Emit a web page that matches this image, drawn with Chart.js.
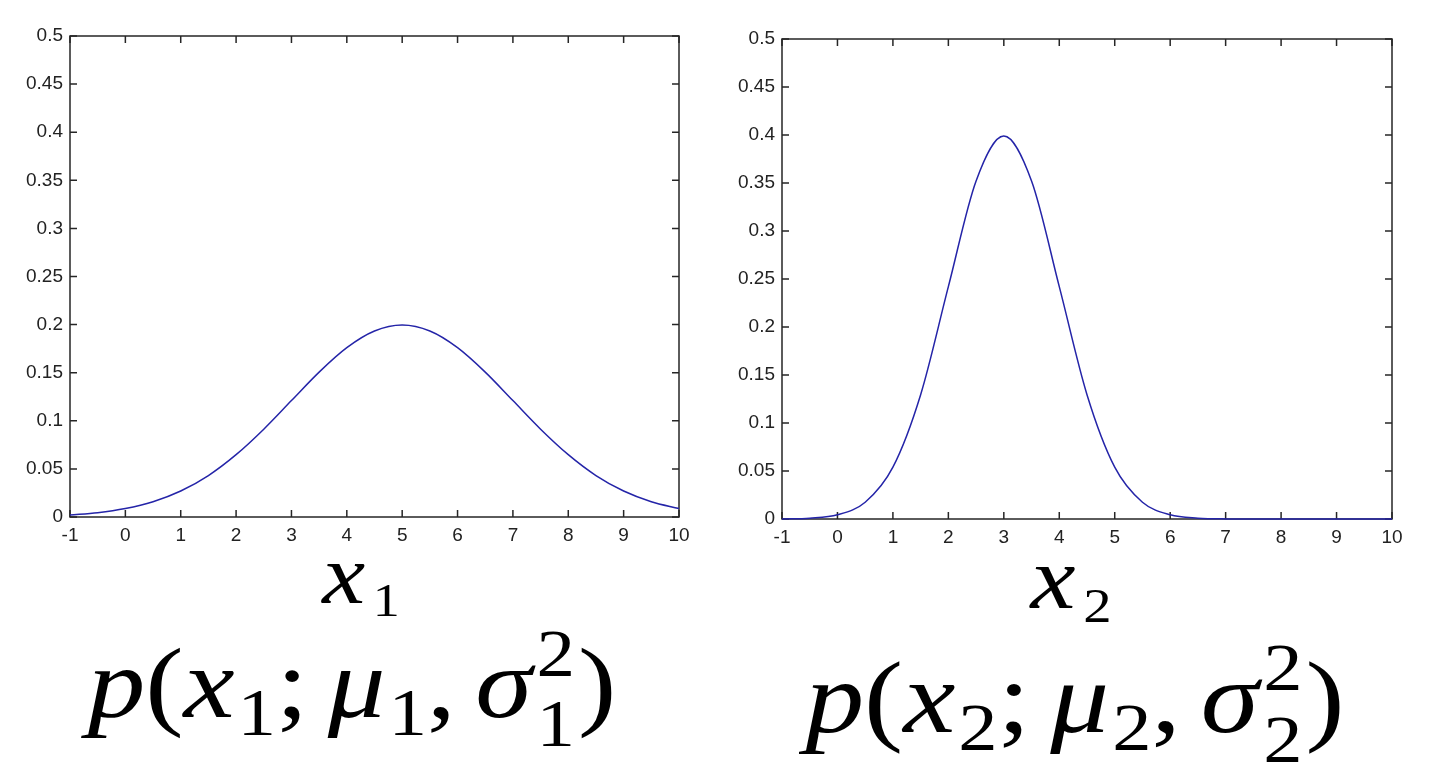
<!DOCTYPE html>
<html lang="en">
<head>
    <meta charset="UTF-8" />
    <title>Gaussian densities</title>
    <script src="https://cdn.jsdelivr.net/npm/chart.js@4.4.0/dist/chart.umd.min.js"></script>
    <style>
        body {
            margin: 0;
            background: #fff;
            width: 1441px;
            height: 782px;
            overflow: hidden;
            position: relative;
        }
        canvas { position: absolute; top: 0; }
        #c1 { left: 0; }
        #c2 { left: 720px; }

        .math {
            position: absolute;
            font-family: "Liberation Serif", "Times New Roman", serif;
            color: #000;
            white-space: nowrap;
            line-height: 1;
            transform: translateX(-50%) scaleX(1.15);
        }
        .math i { font-style: italic; }
        .sub { font-size: 0.67em; position: relative; top: 0.27em; margin-left: 0.04em; }
        .st { display: inline-block; position: relative; width: 0.36em; height: 0; margin-left: 0.04em; }
        .st span { position: absolute; left: 0; font-size: 0.67em; }
        .st .up { top: -1.45em; }
        .st .dn { top: -0.4em; }
        .gap { margin-right: 0.17em; }
    </style>
</head>
<body>
    <canvas id="c1" width="720" height="560"></canvas>
    <canvas id="c2" width="721" height="560"></canvas>

    <div class="math" style="left:361px; top:533px; font-size:84px;"><i>x</i><span class="sub" style="font-size:0.56em; top:0.28em; margin-left:0.14em">1</span></div>
    <div class="math" style="left:352px; top:634px; font-size:100px;"><i>p</i>(<i>x</i><span class="sub">1</span><span class="gap">;</span><i>μ</i><span class="sub">1</span><span class="gap">,</span><i>σ</i><span class="st"><span class="up">2</span><span class="dn">1</span></span>)</div>

    <div class="math" style="left:1071px; top:535px; font-size:88px;"><i>x</i><span class="sub" style="font-size:0.56em; top:0.28em; margin-left:0.14em">2</span></div>
    <div class="math" style="left:1075px; top:647px; font-size:102px;"><i>p</i>(<i>x</i><span class="sub">2</span><span class="gap">;</span><i>μ</i><span class="sub">2</span><span class="gap">,</span><i>σ</i><span class="st"><span class="up">2</span><span class="dn">2</span></span>)</div>

    <script>
        // sample positions along x (both panels)
        const xVals = [-1, -0.5, 0, 0.5, 1, 1.5, 2, 2.5, 3, 3.5, 4, 4.5, 5,
                       5.5, 6, 6.5, 7, 7.5, 8, 8.5, 9, 9.5, 10];

        // left panel: mu1 = 5, wide curve
        const density1 = [0.0022, 0.0045, 0.0088, 0.0159, 0.0270, 0.0431, 0.0648, 0.0913,
                          0.1210, 0.1506, 0.1760, 0.1933, 0.1995, 0.1933, 0.1760, 0.1506,
                          0.1210, 0.0913, 0.0648, 0.0431, 0.0270, 0.0159, 0.0088];

        // right panel: mu2 = 3, narrow curve
        const density2 = [0.0001, 0.0009, 0.0044, 0.0175, 0.0540, 0.1295, 0.2420, 0.3521,
                          0.3989, 0.3521, 0.2420, 0.1295, 0.0540, 0.0175, 0.0044, 0.0009,
                          0.0001, 0, 0, 0, 0, 0, 0];

        const xTicks = [-1, 0, 1, 2, 3, 4, 5, 6, 7, 8, 9, 10];
        const yTicks = [0, 0.05, 0.1, 0.15, 0.2, 0.25, 0.3, 0.35, 0.4, 0.45, 0.5];

        const LINE = "#2424a8";
        const AXIS = "#262626";

        // box around the plot with inward ticks on all four sides (matlab style)
        const boxPlugin = {
            id: "box",
            beforeDatasetsDraw(chart) {
                const { ctx, chartArea: a, scales } = chart;
                const tl = 7;
                ctx.save();
                ctx.strokeStyle = AXIS;
                ctx.lineWidth = 1.5;
                ctx.strokeRect(a.left, a.top, a.width, a.height);
                ctx.beginPath();
                xTicks.forEach((v) => {
                    const px = scales.x.getPixelForValue(v);
                    ctx.moveTo(px, a.bottom); ctx.lineTo(px, a.bottom - tl);
                    ctx.moveTo(px, a.top); ctx.lineTo(px, a.top + tl);
                });
                yTicks.forEach((v) => {
                    const py = scales.y.getPixelForValue(v);
                    ctx.moveTo(a.left, py); ctx.lineTo(a.left + tl, py);
                    ctx.moveTo(a.right, py); ctx.lineTo(a.right - tl, py);
                });
                ctx.stroke();
                ctx.restore();
            },
        };

        function makeChart(id, values, pad, yWidth) {
            const tickFont = { family: "'Liberation Sans', Arial, sans-serif", size: 19 };
            return new Chart(document.getElementById(id), {
                type: "line",
                data: {
                    datasets: [{
                        data: xVals.map((x, i) => ({ x: x, y: values[i] })),
                        borderColor: LINE,
                        borderWidth: 1.5,
                        pointRadius: 0,
                        cubicInterpolationMode: "monotone",
                        fill: false,
                        clip: false,
                    }],
                },
                options: {
                    responsive: false,
                    animation: false,
                    layout: { padding: pad },
                    plugins: { legend: { display: false }, tooltip: { enabled: false } },
                    scales: {
                        x: {
                            type: "linear",
                            min: -1,
                            max: 10,
                            afterFit: (s) => { s.height = 30; },
                            afterBuildTicks: (s) => { s.ticks = xTicks.map((v) => ({ value: v })); },
                            grid: { display: false, drawTicks: false },
                            border: { display: false },
                            ticks: { color: "#222", font: tickFont, padding: 7, maxRotation: 0, autoSkip: false },
                        },
                        y: {
                            min: 0,
                            max: 0.5,
                            afterFit: (s) => { s.width = yWidth; },
                            afterBuildTicks: (s) => { s.ticks = yTicks.map((v) => ({ value: v })); },
                            grid: { display: false, drawTicks: false },
                            border: { display: false },
                            ticks: {
                                color: "#222",
                                font: tickFont,
                                padding: 7,
                                autoSkip: false,
                                callback: (v) => String(v),
                            },
                        },
                    },
                },
                plugins: [boxPlugin],
            });
        }

        makeChart("c1", density1, { left: 0, top: 36, right: 41, bottom: 13 }, 70);
        makeChart("c2", density2, { left: 0, top: 39, right: 49, bottom: 11 }, 62);
    </script>
</body>
</html>
